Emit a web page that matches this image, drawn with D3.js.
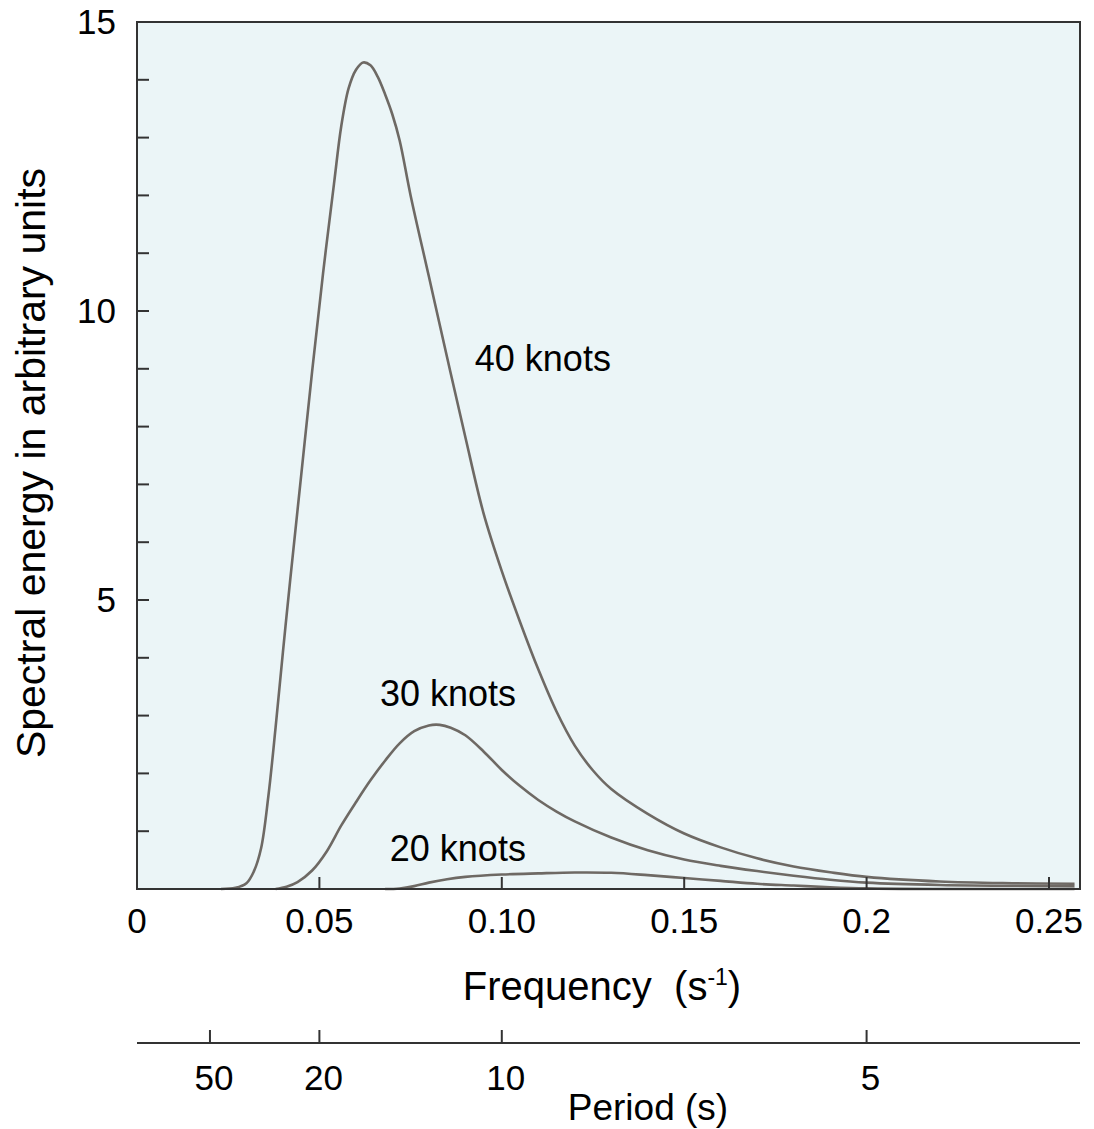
<!DOCTYPE html>
<meta charset="utf-8">
<style>
body { margin: 0; background: #fff; }
text { font-family: Arial, "Liberation Sans", sans-serif; fill: #000; white-space: pre; }
.curve { fill: none; stroke: #6e6964; stroke-width: 2.6px; }
</style>
<svg width="1094" height="1129"></svg>
<script src="https://d3js.org/d3.v7.min.js"></script>
<script>

// frequencies (1/s) at which the curves were read
var freq40 = [0.023, 0.027, 0.030, 0.032, 0.034, 0.036, 0.038, 0.040, 0.042, 0.045, 0.048, 0.051, 0.054, 0.056, 0.058, 0.060, 0.062, 0.064, 0.066, 0.068, 0.070, 0.072, 0.075, 0.080, 0.085, 0.090, 0.095, 0.100, 0.105, 0.110, 0.115, 0.120, 0.125, 0.130, 0.140, 0.150, 0.160, 0.170, 0.180, 0.190, 0.200, 0.220, 0.240, 0.257];
var energy40 = [0, 0.02, 0.1, 0.3, 0.7, 1.6, 2.8, 4.1, 5.35, 7.15, 8.95, 10.65, 12.2, 13.2, 13.85, 14.17, 14.3, 14.25, 14.05, 13.75, 13.4, 12.95, 12.0, 10.6, 9.2, 7.82, 6.5, 5.5, 4.62, 3.8, 3.07, 2.48, 2.05, 1.73, 1.3, 0.96, 0.72, 0.53, 0.39, 0.29, 0.21, 0.13, 0.1, 0.09];

var freq30 = [0.038, 0.041, 0.044, 0.048, 0.052, 0.056, 0.060, 0.064, 0.068, 0.072, 0.076, 0.080, 0.083, 0.086, 0.090, 0.095, 0.100, 0.105, 0.110, 0.115, 0.120, 0.130, 0.140, 0.150, 0.160, 0.170, 0.180, 0.190, 0.200, 0.220, 0.257];
var energy30 = [0, 0.04, 0.12, 0.32, 0.65, 1.1, 1.5, 1.88, 2.22, 2.52, 2.73, 2.83, 2.84, 2.79, 2.66, 2.38, 2.06, 1.78, 1.54, 1.34, 1.17, 0.89, 0.67, 0.51, 0.4, 0.31, 0.23, 0.16, 0.11, 0.07, 0.05];

var freq20 = [0.068, 0.072, 0.076, 0.080, 0.085, 0.090, 0.100, 0.110, 0.120, 0.130, 0.140, 0.150, 0.160, 0.170, 0.180, 0.190, 0.200, 0.220, 0.257];
var energy20 = [0, 0.01, 0.05, 0.11, 0.17, 0.21, 0.25, 0.27, 0.285, 0.28, 0.24, 0.19, 0.14, 0.09, 0.06, 0.03, 0.01, 0, 0];

var seriesNames = ["40 knots", "30 knots", "20 knots"];

var freqTicks = [0, 0.05, 0.10, 0.15, 0.2, 0.25];
var freqTickLabels = ["0", "0.05", "0.10", "0.15", "0.2", "0.25"];
var energyTicks = [1, 2, 3, 4, 5, 6, 7, 8, 9, 10, 11, 12, 13, 14];
var energyTickLabels = [15, 10, 5];
var periodTicks = [50, 20, 10, 5];

var svg = d3.select("svg"),
    plotLeft = 137, plotRight = 1080, plotTop = 22, plotBottom = 889;

var x = d3.scaleLinear().domain([0, 0.2585]).range([plotLeft, plotRight]);
var y = d3.scaleLinear().domain([0, 15]).range([plotBottom, plotTop]);

// plot background
svg.append("rect")
    .attr("x", plotLeft).attr("y", plotTop)
    .attr("width", plotRight - plotLeft).attr("height", plotBottom - plotTop)
    .attr("fill", "#ebf5f7");

var line = d3.line()
    .x(function(d) { return x(d[0]); })
    .y(function(d) { return y(d[1]); })
    .curve(d3.curveCatmullRom.alpha(0.5));

[[freq40, energy40], [freq30, energy30], [freq20, energy20]].forEach(function(s) {
  svg.append("path")
      .attr("class", "curve")
      .attr("d", line(d3.zip(s[0], s[1])));
});

// frame
svg.append("rect")
    .attr("x", plotLeft).attr("y", plotTop)
    .attr("width", plotRight - plotLeft).attr("height", plotBottom - plotTop)
    .attr("fill", "none").attr("stroke", "#333").attr("stroke-width", 2);

// y ticks (inside)
svg.selectAll(".ytick")
  .data(energyTicks)
  .enter().append("line")
    .attr("x1", plotLeft).attr("x2", plotLeft + 12)
    .attr("y1", function(d) { return y(d); })
    .attr("y2", function(d) { return y(d); })
    .attr("stroke", "#333").attr("stroke-width", 2);

svg.selectAll(".ylabel")
  .data(energyTickLabels)
  .enter().append("text")
    .attr("x", 116)
    .attr("y", function(d) { return y(d) + 12; })
    .attr("text-anchor", "end")
    .style("font-size", "35px")
    .text(function(d) { return d; });

// x ticks (inside)
svg.selectAll(".xtick")
  .data(freqTicks.slice(1))
  .enter().append("line")
    .attr("x1", function(d) { return x(d); })
    .attr("x2", function(d) { return x(d); })
    .attr("y1", plotBottom).attr("y2", plotBottom - 12)
    .attr("stroke", "#333").attr("stroke-width", 2);

svg.selectAll(".xlabel")
  .data(freqTicks)
  .enter().append("text")
    .attr("x", function(d) { return x(d); })
    .attr("y", 933)
    .attr("text-anchor", "middle")
    .style("font-size", "35px")
    .text(function(d, i) { return freqTickLabels[i]; });

var xt = svg.append("text")
    .attr("x", 602).attr("y", 1000)
    .attr("text-anchor", "middle")
    .style("font-size", "40px");
xt.append("tspan").text("Frequency  (s");
xt.append("tspan").attr("dy", -15).style("font-size", "23px").text("-1");
xt.append("tspan").attr("dy", 15).text(")");

svg.append("text")
    .attr("transform", "translate(45,463) rotate(-90)")
    .attr("text-anchor", "middle")
    .style("font-size", "41px")
    .text("Spectral energy in arbitrary units");

// period axis
var py = 1043;
svg.append("line")
    .attr("x1", plotLeft).attr("x2", plotRight)
    .attr("y1", py).attr("y2", py)
    .attr("stroke", "#333").attr("stroke-width", 2);

svg.selectAll(".ptick")
  .data(periodTicks)
  .enter().append("line")
    .attr("x1", function(d) { return x(1 / d); })
    .attr("x2", function(d) { return x(1 / d); })
    .attr("y1", py).attr("y2", py - 13)
    .attr("stroke", "#333").attr("stroke-width", 2);

svg.selectAll(".plabel")
  .data(periodTicks)
  .enter().append("text")
    .attr("x", function(d) { return x(1 / d) + 4; })
    .attr("y", 1090)
    .attr("text-anchor", "middle")
    .style("font-size", "35px")
    .text(function(d) { return d; });

svg.append("text")
    .attr("x", 648).attr("y", 1120)
    .attr("text-anchor", "middle")
    .style("font-size", "37px")
    .text("Period (s)");

// curve labels
var labelPos = [[0.0926, 8.97], [0.0666, 3.17], [0.0693, 0.48]];
svg.selectAll(".curveLabel")
  .data(seriesNames)
  .enter().append("text")
    .attr("x", function(d, i) { return x(labelPos[i][0]); })
    .attr("y", function(d, i) { return y(labelPos[i][1]); })
    .style("font-size", "36px")
    .text(function(d) { return d; });

</script>
